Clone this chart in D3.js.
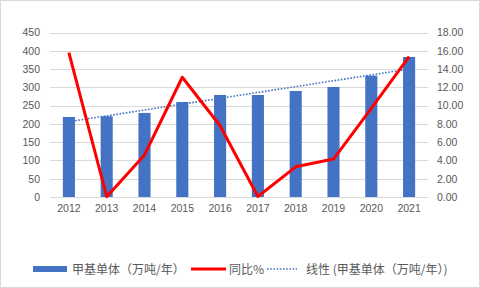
<!DOCTYPE html>
<html>
<head>
<meta charset="utf-8">
<script src="https://cdn.jsdelivr.net/npm/d3@7"></script>
<style>
  body { margin: 0; background: #fff; }
  text { font-family: "Liberation Sans", "Noto Sans CJK SC", sans-serif; fill: #595959; }
</style>
</head>
<body>
<div id="chart"></div>
<script>
var w = 480, h = 288;

var years = ["2012","2013","2014","2015","2016","2017","2018","2019","2020","2021"];
var output = [219, 221, 230, 260, 279, 279, 290, 301, 332, 383];       // 甲基单体（万吨/年）
var growth = [15.8, 0.03, 4.6, 13.1, 7.8, 0.05, 3.3, 4.15, 9.7, 15.35]; // 同比%
var trendEnds = [206, 350];                                             // 线性趋势线两端
var leftTicks = [0, 50, 100, 150, 200, 250, 300, 350, 400, 450];
var rightTicks = [0, 2, 4, 6, 8, 10, 12, 14, 16, 18];

var plot = {left: 50, right: 428, top: 32.5, bottom: 197};

var svg = d3.select("#chart").append("svg").attr("width", w).attr("height", h);

// chart border
svg.append("rect").attr("x", 0.5).attr("y", 0.5)
   .attr("width", w - 1).attr("height", h - 1)
   .attr("fill", "#fff").attr("stroke", "#d9d9d9");

var x = d3.scaleBand().domain(years).range([plot.left, plot.right]).paddingInner(0.68).paddingOuter(0.34);
var yL = d3.scaleLinear().domain([0, 450]).range([plot.bottom, plot.top]);
var yR = d3.scaleLinear().domain([0, 18]).range([plot.bottom, plot.top]);
var cx = function(d){ return x(d) + x.bandwidth() / 2; };

// gridlines
svg.append("g").selectAll("line").data(leftTicks).enter().append("line")
   .attr("x1", plot.left).attr("x2", plot.right)
   .attr("y1", function(d){ return Math.round(yL(d)) + 0.5; })
   .attr("y2", function(d){ return Math.round(yL(d)) + 0.5; })
   .attr("stroke", "#d9d9d9").attr("stroke-width", 1);

// bars
svg.append("g").selectAll("rect").data(output).enter().append("rect")
   .attr("x", function(d, i){ return x(years[i]); })
   .attr("y", function(d){ return yL(d); })
   .attr("width", x.bandwidth())
   .attr("height", function(d){ return plot.bottom - yL(d); })
   .attr("fill", "#4472c4");

// trend line
svg.append("line")
   .attr("x1", cx(years[0])).attr("y1", yL(trendEnds[0]))
   .attr("x2", cx(years[years.length - 1])).attr("y2", yL(trendEnds[1]))
   .attr("stroke", "#4472c4").attr("stroke-width", 1.6)
   .attr("stroke-dasharray", "1.6,1.6");

// growth line
var line = d3.line().x(function(d, i){ return cx(years[i]); }).y(function(d){ return yR(d); });
svg.append("path").datum(growth).attr("d", line)
   .attr("fill", "none").attr("stroke", "#ff0000").attr("stroke-width", 3)
   .attr("stroke-linejoin", "round");

// axes
var leftAxis = d3.axisLeft(yL).tickValues(leftTicks).tickSize(0).tickPadding(10);
var gl = svg.append("g").attr("transform", "translate(" + plot.left + ",0)").call(leftAxis);
gl.select(".domain").remove();

var rightAxis = d3.axisRight(yR).tickValues(rightTicks).tickSize(0).tickPadding(9)
   .tickFormat(d3.format(".2f"));
var gr = svg.append("g").attr("transform", "translate(" + plot.right + ",0)").call(rightAxis);
gr.select(".domain").remove();

var bottomAxis = d3.axisBottom(x).tickSize(0).tickPadding(8);
var gb = svg.append("g").attr("transform", "translate(0," + plot.bottom + ")").call(bottomAxis);
gb.select(".domain").remove();

svg.selectAll(".tick text").attr("font-size", 10.5).attr("fill", "#595959")
   .attr("font-family", "Liberation Sans, sans-serif");

// legend
var lg = svg.append("g");
lg.append("rect").attr("x", 33).attr("y", 266).attr("width", 34).attr("height", 6).attr("fill", "#4472c4");
lg.append("text").attr("x", 72).attr("y", 273.5).attr("font-size", 12)
  .style("font-family", "Noto Sans CJK SC").text("甲基单体（万吨/年）");
lg.append("line").attr("x1", 191).attr("x2", 226).attr("y1", 269).attr("y2", 269)
  .attr("stroke", "#ff0000").attr("stroke-width", 3);
lg.append("text").attr("x", 229).attr("y", 273.5).attr("font-size", 12)
  .style("font-family", "Noto Sans CJK SC").text("同比%");
lg.append("line").attr("x1", 267).attr("x2", 297).attr("y1", 269).attr("y2", 269)
  .attr("stroke", "#4472c4").attr("stroke-width", 1.6).attr("stroke-dasharray", "1.6,1.6");
lg.append("text").attr("x", 306).attr("y", 273.5).attr("font-size", 12)
  .style("font-family", "Noto Sans CJK SC").text("线性 (甲基单体（万吨/年）)");
</script>
</body>
</html>
